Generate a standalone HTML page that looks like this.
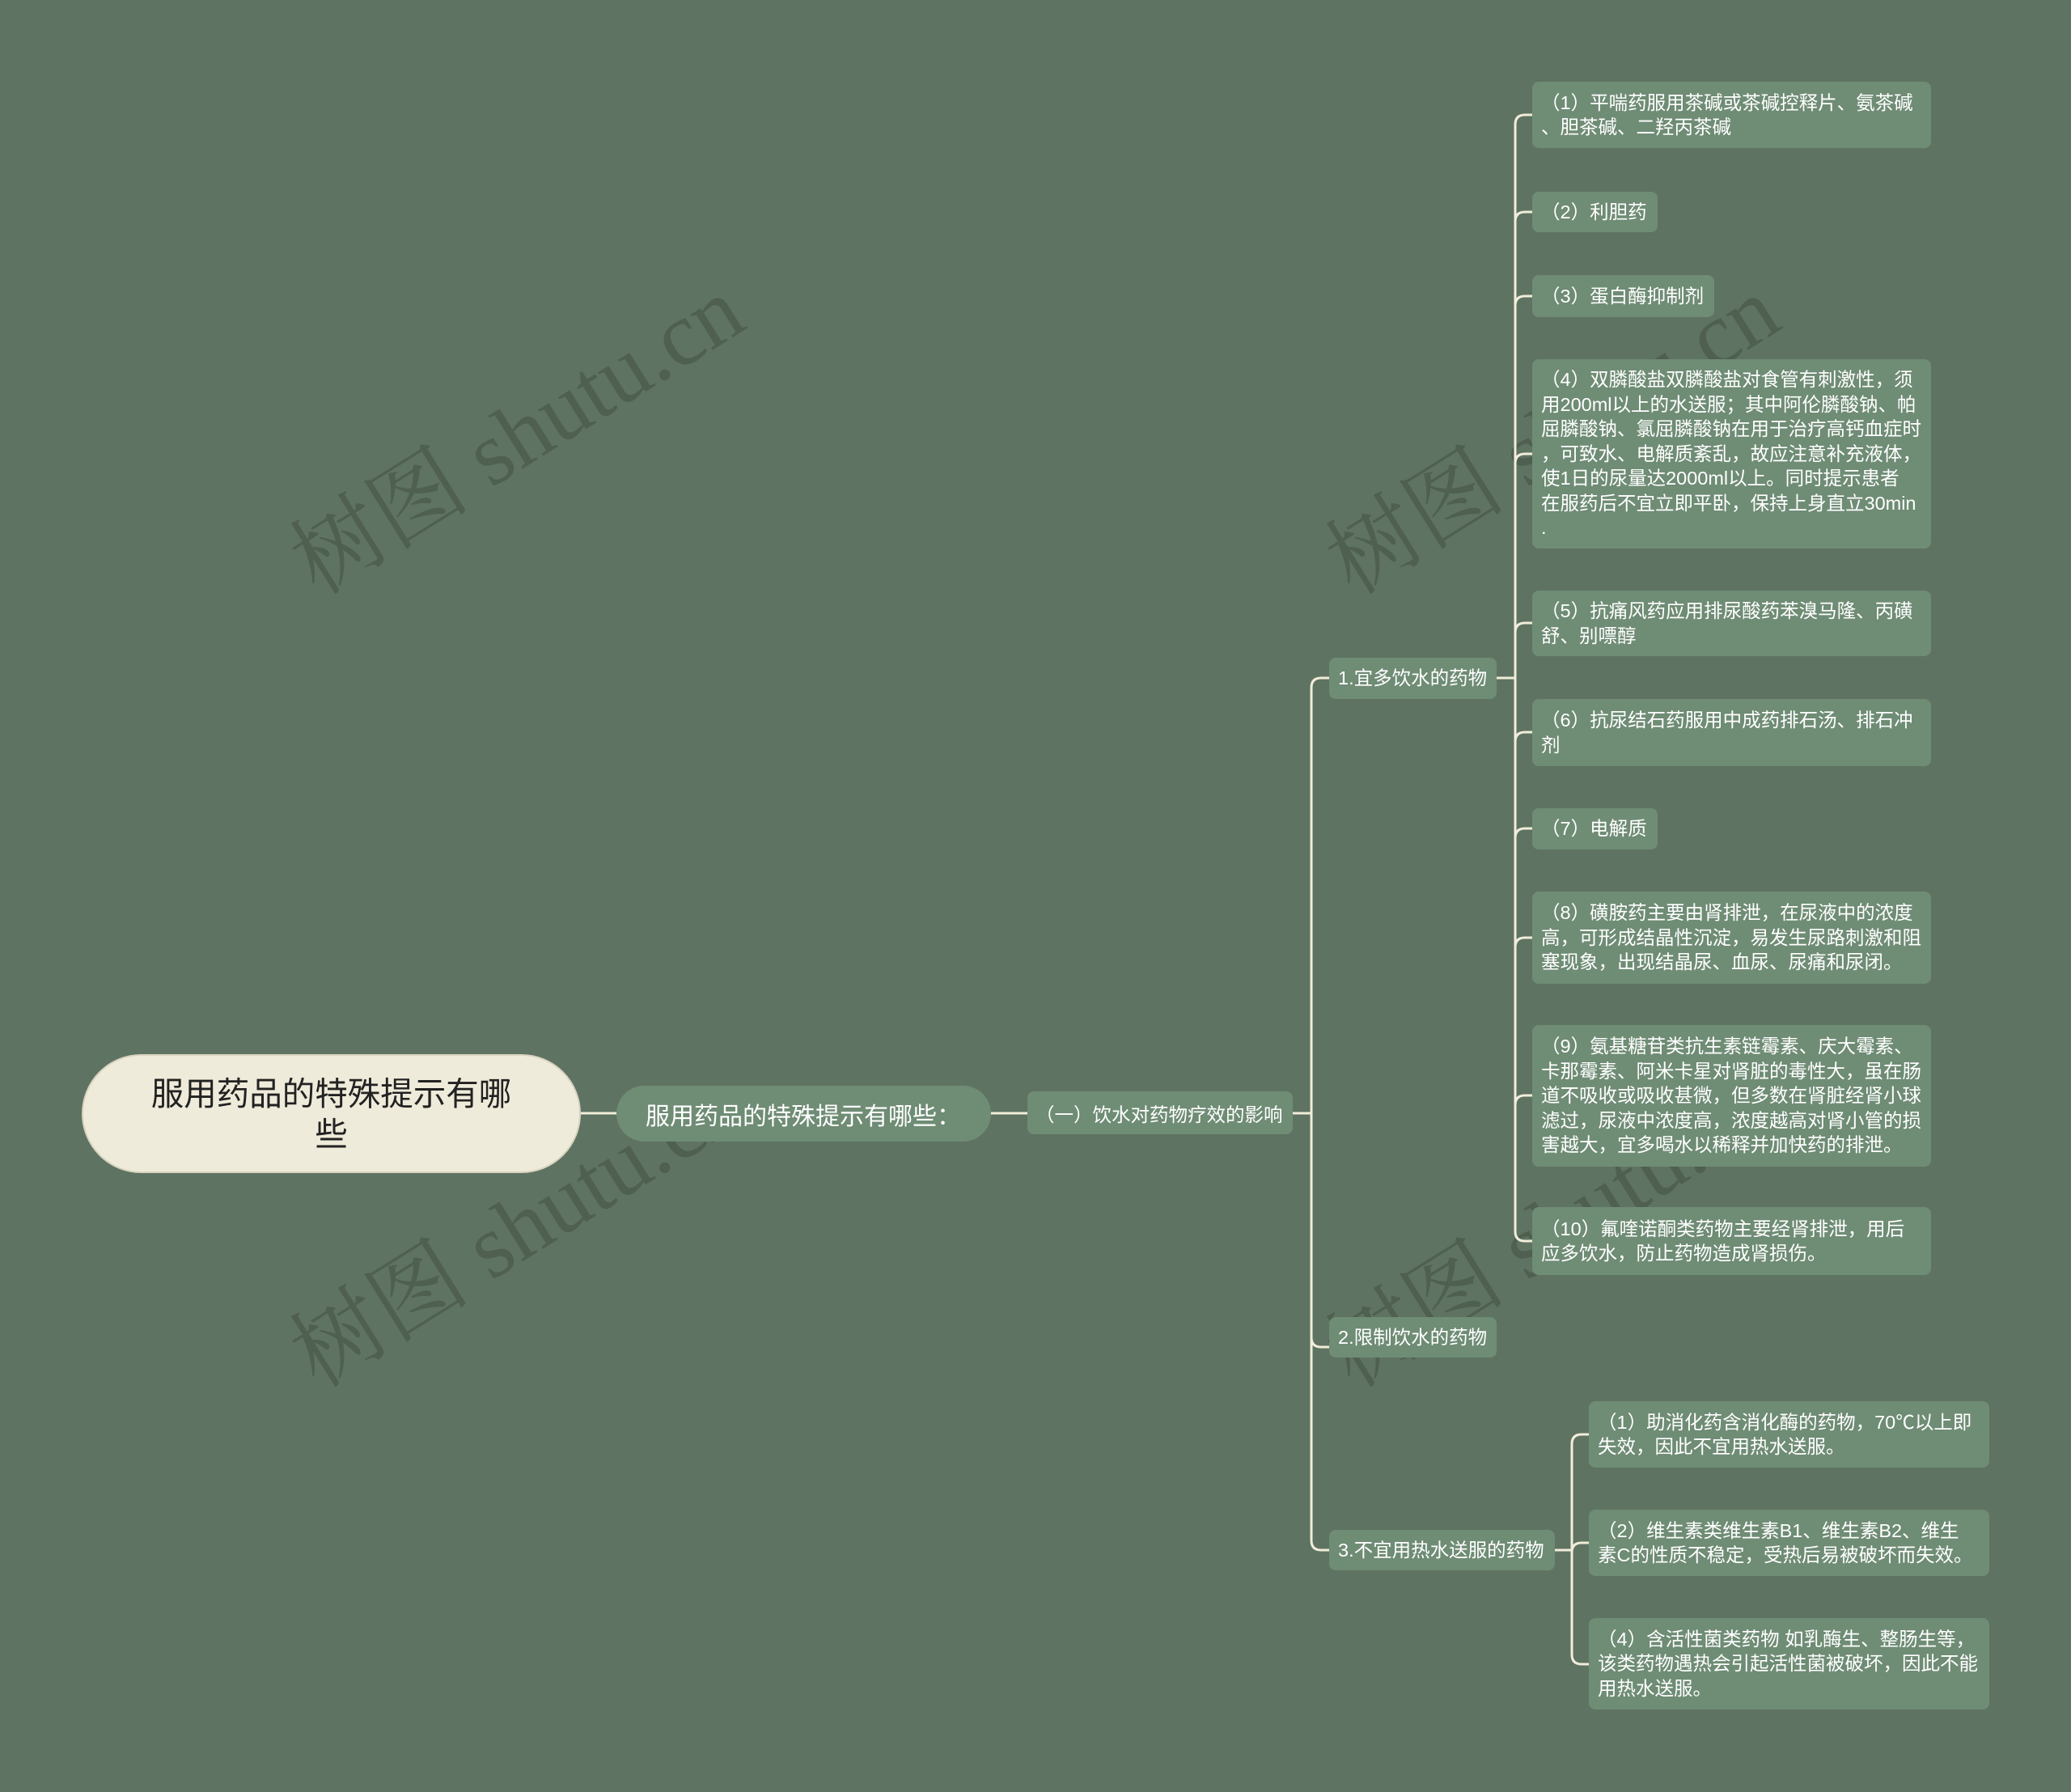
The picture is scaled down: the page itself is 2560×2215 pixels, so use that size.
<!DOCTYPE html>
<html><head><meta charset="utf-8"><style>
body{margin:0;}
#c{position:relative;width:2560px;height:2215px;background:#5f7362;overflow:hidden;font-family:"Liberation Sans","Noto Sans CJK SC",sans-serif;}
.n{position:absolute;box-sizing:border-box;background:#6f8c75;color:#fff;border-radius:8px;display:flex;align-items:center;white-space:nowrap;}
.leaf{font-size:23.5px;line-height:30.5px;padding:0 11px;}
.wm{position:absolute;font-family:"Liberation Serif","Noto Serif CJK SC",serif;font-size:112px;color:rgba(55,65,55,0.4);transform:rotate(-32deg);white-space:nowrap;transform-origin:center;}
</style></head><body><div id="c">
<div class="wm" style="left:320px;top:450px;">树图 shutu.cn</div>
<div class="wm" style="left:1600px;top:450px;">树图 shutu.cn</div>
<div class="wm" style="left:320px;top:1430px;">树图 shutu.cn</div>
<div class="wm" style="left:1600px;top:1430px;">树图 shutu.cn</div>
<svg style="position:absolute;left:0;top:0" width="2560" height="2215" fill="none" stroke="#f1edd9" stroke-width="3">
<path d="M718 1376 H762"/>
<path d="M1225 1376 H1270"/>
<path d="M1598 1376 H1621"/>
<path d="M1643 838 H1633 Q1621 838 1621 850 V1904 Q1621 1916 1633 1916 H1643"/>
<path d="M1621 1653 Q1621 1665 1633 1665 H1643"/>
<path d="M1850 838 H1873"/>
<path d="M1894 142 H1885 Q1873 142 1873 154 V1522 Q1873 1534 1885 1534 H1894"/>
<path d="M1873 274 Q1873 262 1885 262 H1894"/>
<path d="M1873 378 Q1873 366 1885 366 H1894"/>
<path d="M1873 573 Q1873 561 1885 561 H1894"/>
<path d="M1873 782 Q1873 770 1885 770 H1894"/>
<path d="M1873 917 Q1873 905 1885 905 H1894"/>
<path d="M1873 1036 Q1873 1024 1885 1024 H1894"/>
<path d="M1873 1171 Q1873 1159 1885 1159 H1894"/>
<path d="M1873 1366 Q1873 1354 1885 1354 H1894"/>
<path d="M1922 1916 H1943"/>
<path d="M1964 1773 H1955 Q1943 1773 1943 1785 V2045 Q1943 2057 1955 2057 H1964"/>
<path d="M1943 1919 Q1943 1907 1955 1907 H1964"/>
</svg>
<div class="n" style="left:101px;top:1303px;width:617px;height:147px;border-radius:74px;background:#efebda;color:#222;font-size:40.5px;line-height:50px;justify-content:center;text-align:center;border:2px solid #d8d4c0;">服用药品的特殊提示有哪<br>些</div>
<div class="n" style="left:762px;top:1342px;width:463px;height:69px;border-radius:35px;font-size:30px;padding-left:36px;">服用药品的特殊提示有哪些：</div>
<div class="n" style="left:1270px;top:1349px;width:328px;height:53px;font-size:23.5px;padding-left:10px;">（一）饮水对药物疗效的影响</div>
<div class="n leaf" style="left:1643px;top:813px;width:207px;height:51px;">1.宜多饮水的药物</div>
<div class="n leaf" style="left:1643px;top:1628px;width:207px;height:50px;">2.限制饮水的药物</div>
<div class="n leaf" style="left:1643px;top:1891px;width:279px;height:50px;">3.不宜用热水送服的药物</div>
<div class="n leaf" style="left:1894px;top:101px;width:493px;height:82px;">（1）平喘药服用茶碱或茶碱控释片、氨茶碱<br>、胆茶碱、二羟丙茶碱</div>
<div class="n leaf" style="left:1894px;top:237px;width:155px;height:50px;">（2）利胆药</div>
<div class="n leaf" style="left:1894px;top:340px;width:225px;height:52px;">（3）蛋白酶抑制剂</div>
<div class="n leaf" style="left:1894px;top:444px;width:493px;height:234px;">（4）双膦酸盐双膦酸盐对食管有刺激性，须<br>用200ml以上的水送服；其中阿伦膦酸钠、帕<br>屈膦酸钠、氯屈膦酸钠在用于治疗高钙血症时<br>，可致水、电解质紊乱，故应注意补充液体，<br>使1日的尿量达2000ml以上。同时提示患者<br>在服药后不宜立即平卧，保持上身直立30min<br>.</div>
<div class="n leaf" style="left:1894px;top:730px;width:493px;height:81px;">（5）抗痛风药应用排尿酸药苯溴马隆、丙磺<br>舒、别嘌醇</div>
<div class="n leaf" style="left:1894px;top:864px;width:493px;height:83px;">（6）抗尿结石药服用中成药排石汤、排石冲<br>剂</div>
<div class="n leaf" style="left:1894px;top:999px;width:155px;height:51px;">（7）电解质</div>
<div class="n leaf" style="left:1894px;top:1102px;width:493px;height:114px;">（8）磺胺药主要由肾排泄，在尿液中的浓度<br>高，可形成结晶性沉淀，易发生尿路刺激和阻<br>塞现象，出现结晶尿、血尿、尿痛和尿闭。</div>
<div class="n leaf" style="left:1894px;top:1267px;width:493px;height:175px;">（9）氨基糖苷类抗生素链霉素、庆大霉素、<br>卡那霉素、阿米卡星对肾脏的毒性大，虽在肠<br>道不吸收或吸收甚微，但多数在肾脏经肾小球<br>滤过，尿液中浓度高，浓度越高对肾小管的损<br>害越大，宜多喝水以稀释并加快药的排泄。</div>
<div class="n leaf" style="left:1894px;top:1492px;width:493px;height:84px;">（10）氟喹诺酮类药物主要经肾排泄，用后<br>应多饮水，防止药物造成肾损伤。</div>
<div class="n leaf" style="left:1964px;top:1732px;width:495px;height:82px;">（1）助消化药含消化酶的药物，70℃以上即<br>失效，因此不宜用热水送服。</div>
<div class="n leaf" style="left:1964px;top:1866px;width:495px;height:82px;">（2）维生素类维生素B1、维生素B2、维生<br>素C的性质不稳定，受热后易被破坏而失效。</div>
<div class="n leaf" style="left:1964px;top:2000px;width:495px;height:113px;">（4）含活性菌类药物 如乳酶生、整肠生等，<br>该类药物遇热会引起活性菌被破坏，因此不能<br>用热水送服。</div>
</div></body></html>
